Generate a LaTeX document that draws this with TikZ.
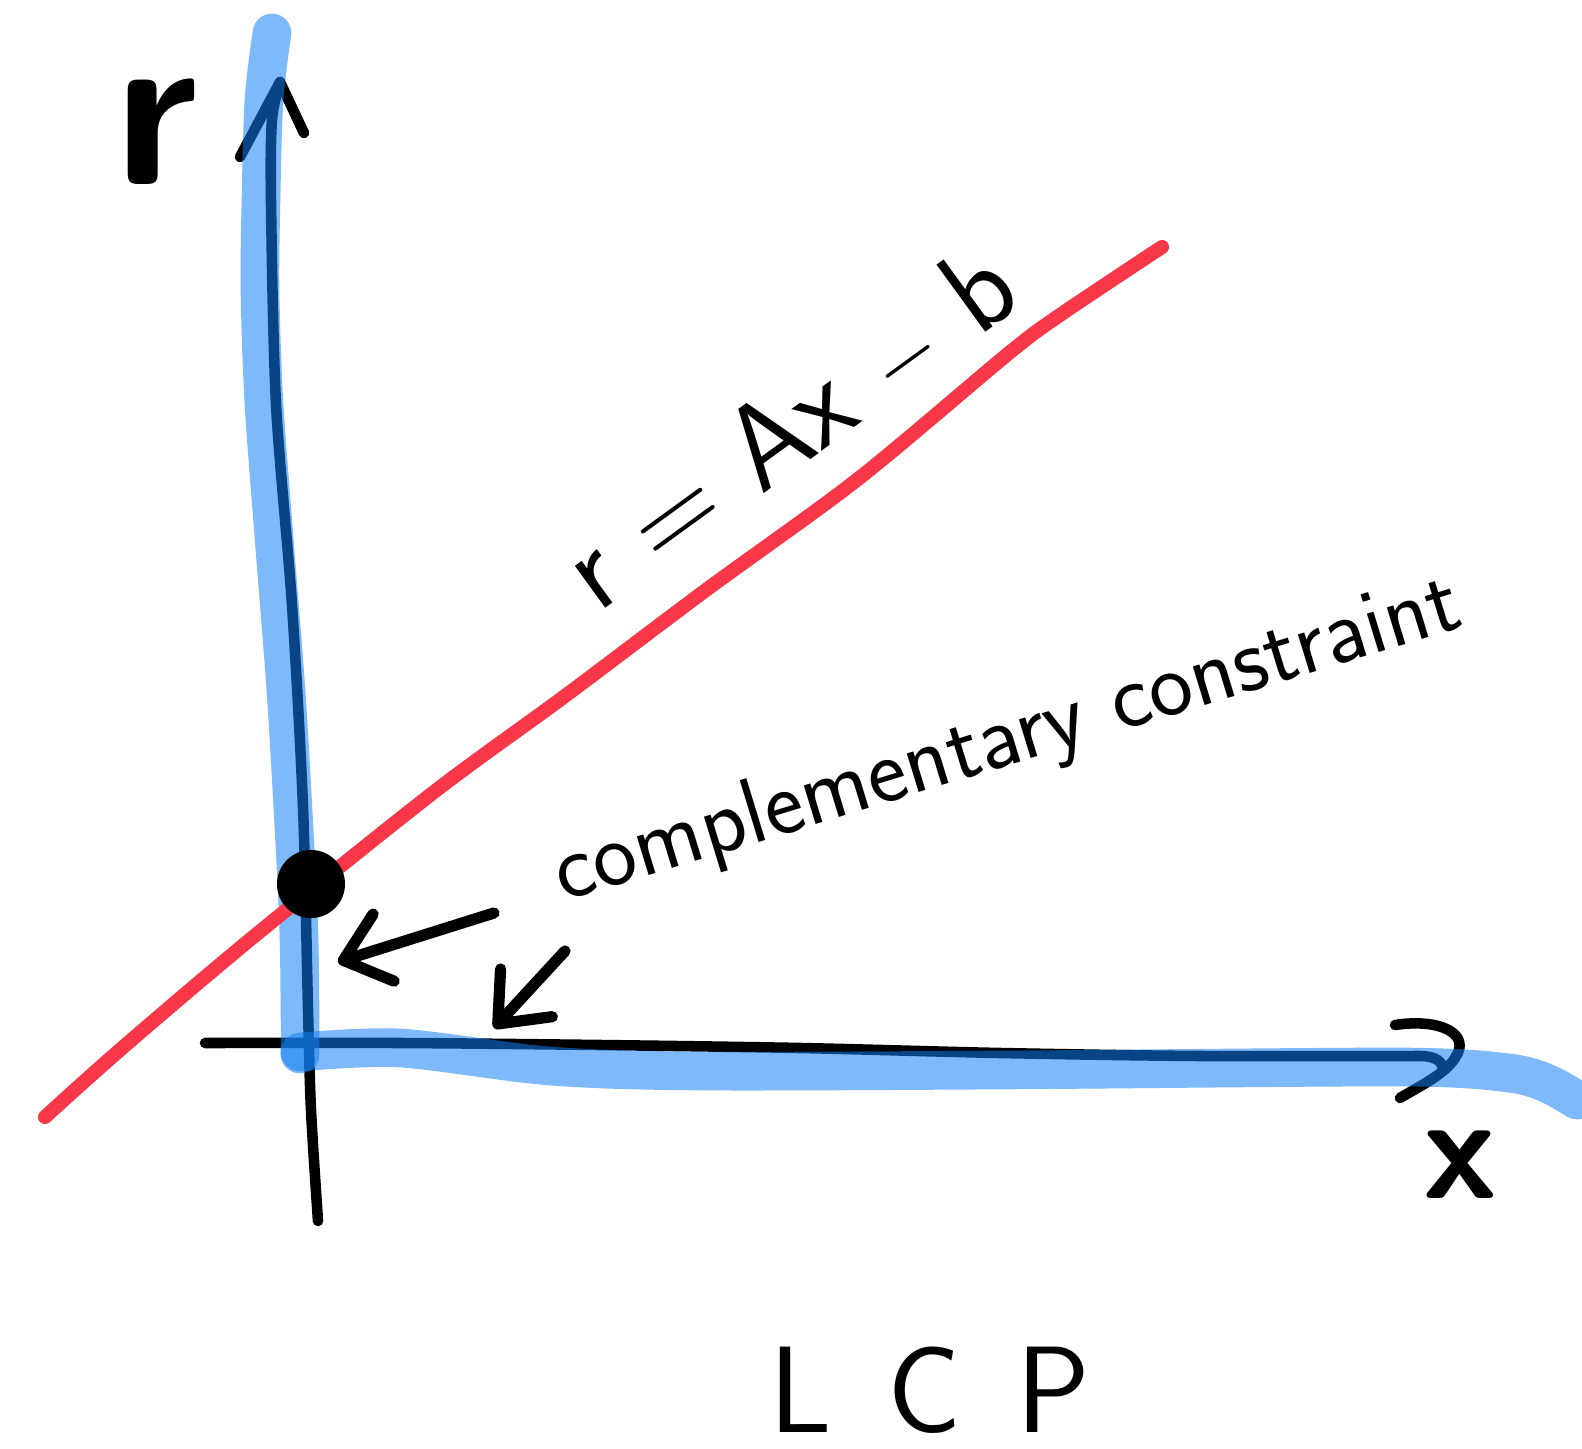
\documentclass[tikz,border=0pt]{standalone}
\usetikzlibrary{arrows.meta}
\definecolor{bandblau}{RGB}{18,127,244}
\definecolor{linrot}{RGB}{248,56,72}
\tikzset{
  band/.style={draw=bandblau, line width=11pt, line cap=round, line join=round, draw opacity=0.545},
  achse/.style={draw=black, line width=3pt, line cap=round, line join=round},
  gerade/.style={draw=linrot, line width=4pt, line cap=round},
  zeiger/.style={draw=black, line width=3.2pt, line cap=round, -{Straight Barb[length=12pt,width=20pt,round]}},
  schrift/.style={inner sep=0pt},
}
\begin{document}
\begin{tikzpicture}[x=0.01cm, y=-0.01cm]
\useasboundingbox (0,0) rectangle (1582,1449);
% Achsen
\draw[achse] plot[smooth] coordinates {(318,1221) (311,1110) (308,1009) (303,807) (292,605) (276,404) (271,202) (272,120) (280,82)};
\draw[achse] (240,157) -- (280,82) -- (304,133);
\draw[achse] plot[smooth] coordinates {(205,1043) (400,1043) (600,1045) (800,1048) (1000,1053) (1200,1056) (1420,1056)}
  .. controls (1436,1056) and (1443,1062) .. (1443,1070);
\draw[achse] (1395,1025) .. controls (1440,1018) and (1472,1034) .. (1455,1058)
  .. controls (1445,1074) and (1420,1086) .. (1400,1098);
% Komplementaritaet (blau)
\draw[band] plot[smooth] coordinates {(272,33) (264,100) (261,200) (260,290) (264,404) (275,550) (287,706) (298,908) (300,1009) (300,1054)};
\draw[band] plot[smooth] coordinates {(300,1052) (400,1048) (550,1066) (700,1071) (1000,1070) (1400,1067) (1500,1072)}
  .. controls (1540,1075) and (1560,1090) .. (1577,1100);
% Gerade r = Ax - b
\draw[gerade] plot[smooth] coordinates {(45,1117) (121,1049) (252,938) (434,792) (565,696) (706,590) (858,479) (1009,353) (1060,315) (1162,247)};
% Loesungspunkt
\node[circle, fill=black, minimum size=0.68cm, inner sep=0pt] (dot) at (311,884) {};
% Pfeile
\coordinate (p1) at (494,913);
\coordinate (p1s) at (338,962);
\coordinate (p2) at (565,951);
\coordinate (p2s) at (494,1028);
\draw[zeiger] (p1) -- (p1s);
\draw[zeiger] (p2) -- (p2s);
% Beschriftung
\node[schrift, font=\sffamily\bfseries\fontsize{64}{64}\selectfont] (rlabel) at (156,132) {r};
\node[schrift, font=\sffamily\bfseries\fontsize{42}{42}\selectfont] (xlabel) at (1460,1165) {x};
\node[schrift, rotate=36, font=\sffamily\fontsize{34}{34}\selectfont] (eqlabel) at (790,428) {r = Ax $-$ b};
\node[schrift, rotate=17, font=\sffamily\fontsize{26.5}{26.5}\selectfont] (cclabel) at (1008,742) {complementary constraint};
\node[schrift, font=\sffamily\fontsize{35}{35}\selectfont] (lcp) at (930,1390) {L\hspace{0.45em}C\hspace{0.45em}P};
\end{tikzpicture}
\end{document}
